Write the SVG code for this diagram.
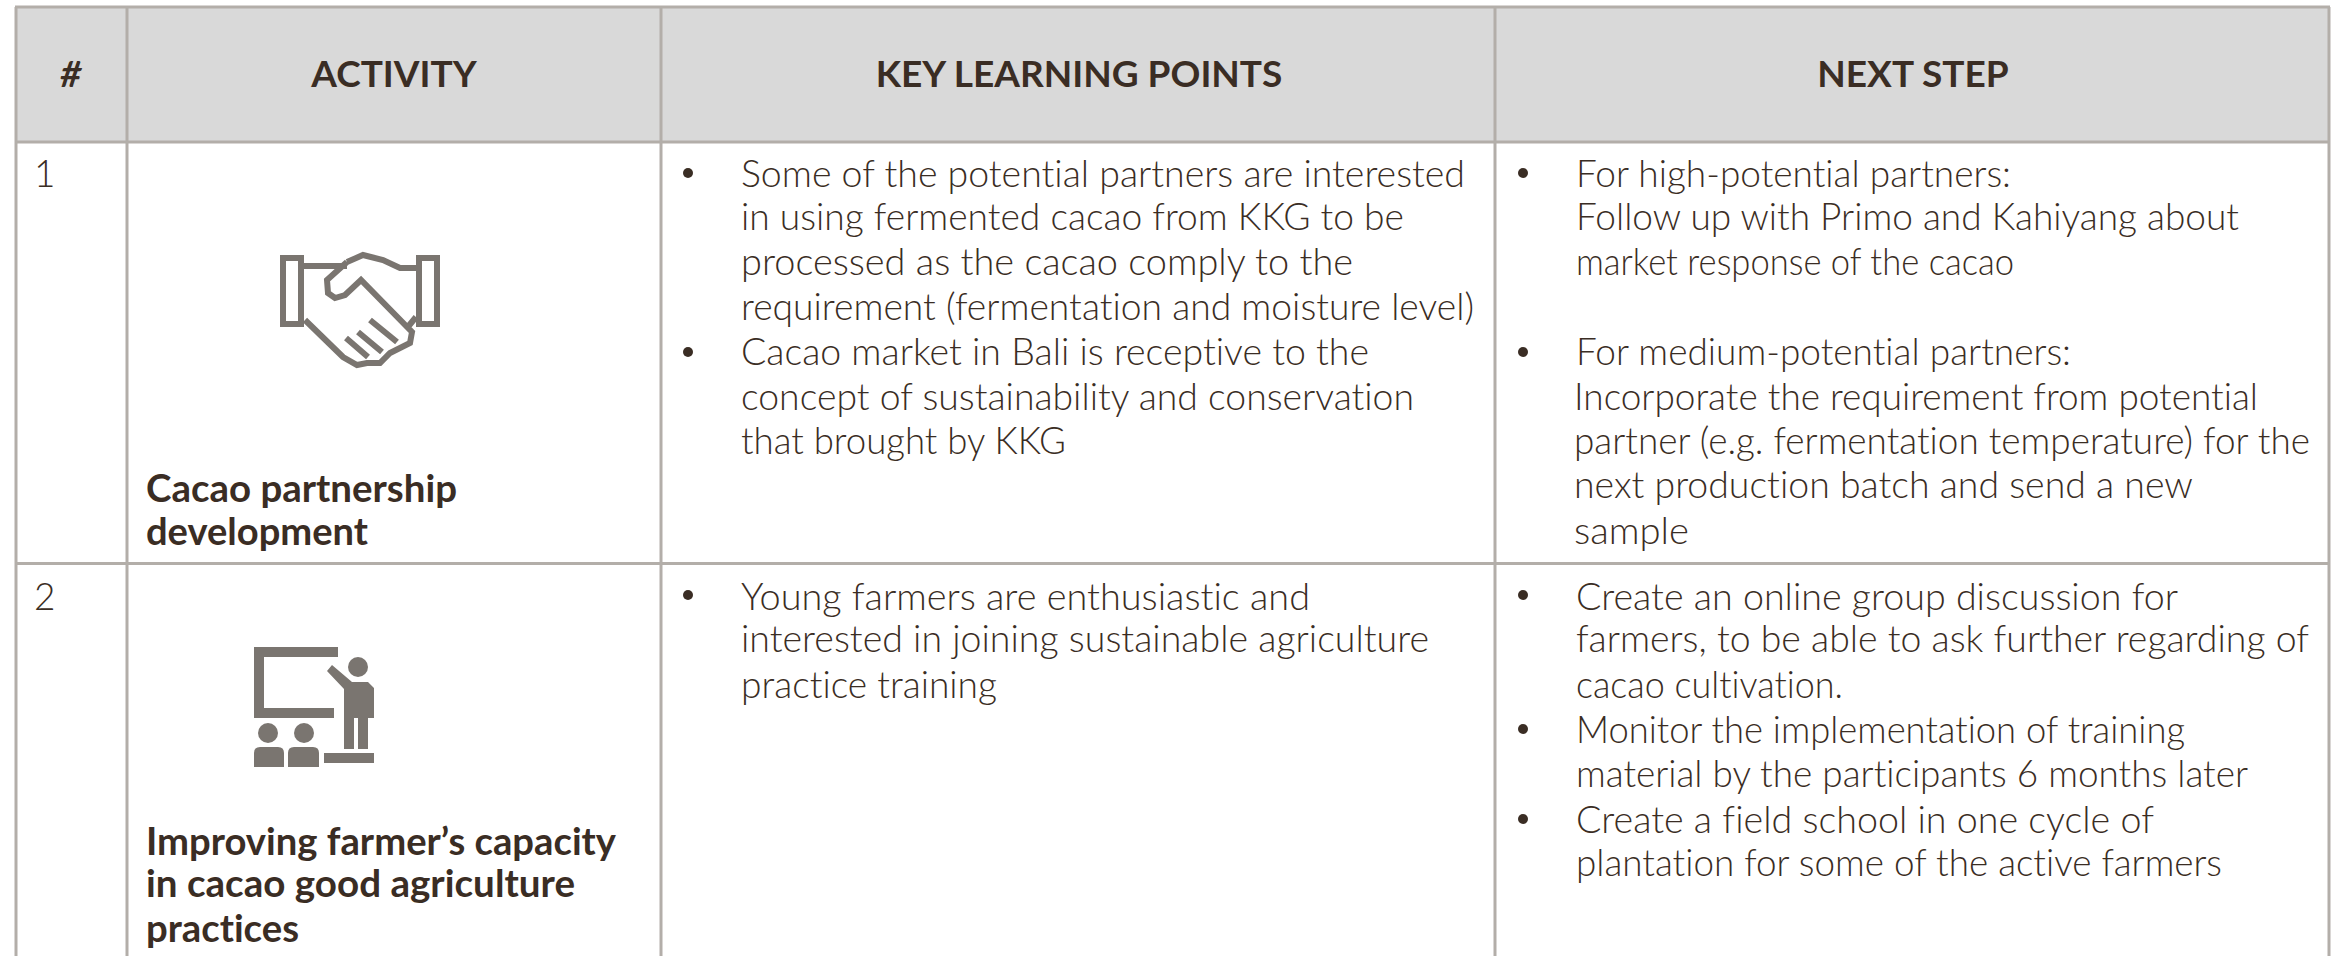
<svg xmlns="http://www.w3.org/2000/svg" width="2334" height="956" viewBox="0 0 2334 956">
<style>
text{font-family:Lato,"Liberation Sans",sans-serif;fill:#3a2d24;font-variant-ligatures:none}
.t{font-size:37px;font-weight:300}
.b{font-size:38px;font-weight:700}
.h{font-size:37px;font-weight:700;text-anchor:middle}
.g{stroke:#b3aea9;stroke-width:3;fill:none}
.i{fill:#7a7570}
.s{fill:none;stroke:#7a7570;stroke-width:6}
.d{fill:#3a2d24}
</style>
<rect width="2334" height="956" fill="#fff"/>
<rect x="16" y="8" width="2313" height="134" fill="#d9d9d9"/>
<g id="grid"><path class="g" d="M16 7V956M127 7V956M661 7V956M1495 7V956M2329 7V956M15 7H2330M15 142H2330M15 563.500H2330"/></g>
<g id="header">
<text class="h" x="71" y="87" font-style="italic">#</text>
<text class="h" x="394" y="87">ACTIVITY</text>
<text class="h" x="1079" y="87">KEY LEARNING POINTS</text>
<text class="h" x="1913" y="87">NEXT STEP</text>
</g>
<g id="row1">
<text class="t" x="34" y="187">1</text>
<g id="handshake">
<rect class="s" x="283" y="258" width="18" height="66"/><rect class="s" x="419" y="258" width="18" height="66"/>
<path class="s" d="M304 266H347M347 262L363 255L383 260L400 268H416M347 262L327 280L328 293L335 298L345 295L361 280L412 332L410 343L390 353L380 363H367L357 365L343 357L305 320M370 320L397 342M358 332L382 352M346 338L368 357M416 317L407 328"/>
</g>
<text class="b" x="146" y="502" textLength="311" lengthAdjust="spacingAndGlyphs">Cacao partnership</text>
<text class="b" x="146" y="545" textLength="222" lengthAdjust="spacingAndGlyphs">development</text>
<circle class="d" cx="688" cy="173" r="5"/>
<text class="t" x="741" y="187" textLength="724" lengthAdjust="spacingAndGlyphs">Some of the potential partners are interested</text>
<text class="t" x="741" y="230" textLength="663" lengthAdjust="spacingAndGlyphs">in using fermented cacao from KKG to be</text>
<text class="t" x="741" y="275" textLength="612" lengthAdjust="spacingAndGlyphs">processed as the cacao comply to the</text>
<text class="t" x="741" y="320" textLength="733" lengthAdjust="spacingAndGlyphs">requirement (fermentation and moisture level)</text>
<circle class="d" cx="688" cy="352" r="5"/>
<text class="t" x="741" y="365" textLength="628" lengthAdjust="spacingAndGlyphs">Cacao market in Bali is receptive to the</text>
<text class="t" x="741" y="410" textLength="673" lengthAdjust="spacingAndGlyphs">concept of sustainability and conservation</text>
<text class="t" x="741" y="454" textLength="325" lengthAdjust="spacingAndGlyphs">that brought by KKG</text>
<circle class="d" cx="1523" cy="173" r="5"/>
<text class="t" x="1576" y="187" textLength="435" lengthAdjust="spacingAndGlyphs">For high-potential partners:</text>
<text class="t" x="1576" y="230" textLength="663" lengthAdjust="spacingAndGlyphs">Follow up with Primo and Kahiyang about</text>
<text class="t" x="1576" y="275" textLength="438" lengthAdjust="spacingAndGlyphs">market response of the cacao</text>
<circle class="d" cx="1523" cy="352" r="5"/>
<text class="t" x="1576" y="365" textLength="495" lengthAdjust="spacingAndGlyphs">For medium-potential partners:</text>
<text class="t" x="1574" y="410" textLength="684" lengthAdjust="spacingAndGlyphs">Incorporate the requirement from potential</text>
<text class="t" x="1574" y="454" textLength="736" lengthAdjust="spacingAndGlyphs">partner (e.g. fermentation temperature) for the</text>
<text class="t" x="1574" y="498" textLength="619" lengthAdjust="spacingAndGlyphs">next production batch and send a new</text>
<text class="t" x="1574" y="544" textLength="115" lengthAdjust="spacingAndGlyphs">sample</text>
</g>
<g id="row2">
<text class="t" x="34" y="610">2</text>
<g id="teacher" class="i">
<path d="M254 647H338V657H264V708H334V718H254Z"/>
<circle cx="358" cy="667" r="10"/>
<path d="M327 671L332 665L352 682H368L374 688V718H368V749H358V718H354V749H344V689Z"/>
<circle cx="268" cy="733" r="10"/><circle cx="304" cy="733" r="10"/>
<path d="M254 767V753Q254 747 260 747H278Q284 747 284 753V767ZM288 767V753Q288 747 294 747H313Q319 747 319 753V767ZM324 753H374V763H324Z"/>
</g>
<text class="b" x="146" y="855" textLength="470" lengthAdjust="spacingAndGlyphs">Improving farmer’s capacity</text>
<text class="b" x="146" y="897" textLength="429" lengthAdjust="spacingAndGlyphs">in cacao good agriculture</text>
<text class="b" x="146" y="942" textLength="153" lengthAdjust="spacingAndGlyphs">practices</text>
<circle class="d" cx="688" cy="595" r="5"/>
<text class="t" x="741" y="610" textLength="569" lengthAdjust="spacingAndGlyphs">Young farmers are enthusiastic and</text>
<text class="t" x="741" y="652" textLength="688" lengthAdjust="spacingAndGlyphs">interested in joining sustainable agriculture</text>
<text class="t" x="741" y="698" textLength="256" lengthAdjust="spacingAndGlyphs">practice training</text>
<circle class="d" cx="1523" cy="595" r="5"/>
<text class="t" x="1576" y="610" textLength="602" lengthAdjust="spacingAndGlyphs">Create an online group discussion for</text>
<text class="t" x="1576" y="652" textLength="733" lengthAdjust="spacingAndGlyphs">farmers, to be able to ask further regarding of</text>
<text class="t" x="1576" y="698" textLength="267" lengthAdjust="spacingAndGlyphs">cacao cultivation.</text>
<circle class="d" cx="1523" cy="729" r="5"/>
<text class="t" x="1576" y="743" textLength="609" lengthAdjust="spacingAndGlyphs">Monitor the implementation of training</text>
<text class="t" x="1576" y="787" textLength="672" lengthAdjust="spacingAndGlyphs">material by the participants 6 months later</text>
<circle class="d" cx="1523" cy="819" r="5"/>
<text class="t" x="1576" y="833" textLength="578" lengthAdjust="spacingAndGlyphs">Create a field school in one cycle of</text>
<text class="t" x="1576" y="876" textLength="646" lengthAdjust="spacingAndGlyphs">plantation for some of the active farmers</text>
</g>
</svg>
